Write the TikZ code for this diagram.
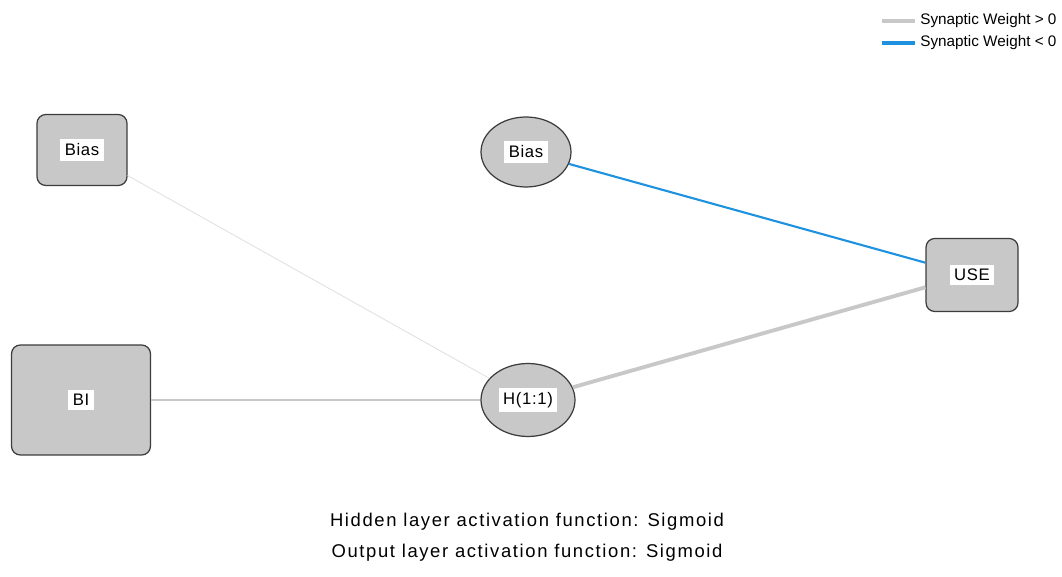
\documentclass[tikz,border=0pt]{standalone}
\usepackage{fontspec}
\setmainfont{Liberation Sans}
\usepackage{tikz}
\usetikzlibrary{shapes.geometric}
\definecolor{posw}{RGB}{200,200,200}
\definecolor{negw}{RGB}{30,146,222}
\definecolor{unitfill}{RGB}{200,200,200}
\definecolor{unitline}{RGB}{60,60,60}
\newcommand{\unitlabel}[1]{\setlength{\fboxsep}{2.5pt}\colorbox{white}{#1}}

\begin{document}
\begin{tikzpicture}[x=0.02cm,y=-0.02cm]
    \tikzset{
        unitbox/.style={draw=unitline, fill=unitfill, line width=0.7pt, rounded corners=5pt,
            font=\fontsize{9.5}{11}\selectfont\addfontfeatures{LetterSpace=4}, inner sep=0pt},
        unitoval/.style={ellipse, draw=unitline, fill=unitfill, line width=0.7pt,
            font=\fontsize{9.5}{11}\selectfont\addfontfeatures{LetterSpace=4}, inner sep=0pt},
        legendtext/.style={anchor=west, inner sep=0pt, font=\fontsize{8.7}{10}\selectfont},
        notetext/.style={inner sep=0pt, font=\fontsize{10.5}{13}\selectfont\addfontfeatures{LetterSpace=8.8}}
    }
    \useasboundingbox (0,0) rectangle (1062,577);
    % units
    \node [unitbox, minimum width=1.8cm, minimum height=1.42cm] (biasin) at (82,150) {\unitlabel{Bias}};
    \node [unitbox, minimum width=2.78cm, minimum height=2.2cm] (bi) at (81,400) {\unitlabel{BI}};
    \node [unitoval, minimum width=1.8cm, minimum height=1.4cm] (biash) at (526,152) {\unitlabel{Bias}};
    \node [unitoval, minimum width=1.88cm, minimum height=1.46cm] (h11) at (528,400) {\unitlabel{H(1:1)}};
    \node [unitbox, minimum width=1.84cm, minimum height=1.46cm] (use) at (972,275) {\unitlabel{USE}};
    % weights
    \draw [posw!55, line width=0.5pt] (biasin) -- (h11);
    \draw [posw, line width=1.3pt] (bi) -- (h11);
    \draw [posw, line width=2.2pt] (h11) -- ([yshift=-7pt]use.west);
    \draw [negw, line width=1.2pt] (biash) -- ([yshift=7pt]use.west);
    % legend
    \node [legendtext] (legpos) at (920,21) {Synaptic Weight > 0};
    \node [legendtext] (legneg) at (920,43) {Synaptic Weight < 0};
    \draw [posw, line width=1.8pt] ([xshift=-21.5pt]legpos.west) -- ([xshift=-2.8pt]legpos.west);
    \draw [negw, line width=1.8pt] ([xshift=-21.5pt]legneg.west) -- ([xshift=-2.8pt]legneg.west);
    % notes
    \node [notetext] (hidnote) at (527,522) {Hidden layer activation function: Sigmoid};
    \node [notetext] (outnote) at (527,553) {Output layer activation function: Sigmoid};
\end{tikzpicture}
\end{document}
